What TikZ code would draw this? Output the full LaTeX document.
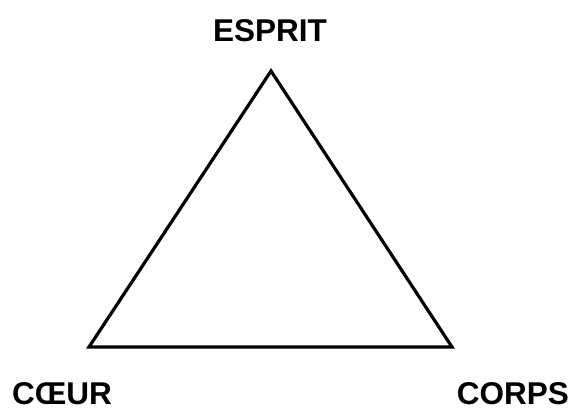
\documentclass[tikz,border=0pt]{standalone}
\usepackage{fontspec}
\setmainfont{Liberation Sans}
\begin{document}
\begin{tikzpicture}[x=1pt,y=-1pt,
  lbl/.style={font=\fontsize{31.5}{36}\selectfont\bfseries, inner sep=0pt, anchor=base},
  edge/.style={line width=3.2pt, line join=miter}]
\useasboundingbox (0,0) rectangle (574,412);
\coordinate (t) at (271,71);
\coordinate (l) at (89,347);
\coordinate (r) at (452,347);
\draw[edge] (t) -- (l) -- (r) -- cycle;
\node[lbl] (esprit) at (270,42) {ESPRIT};
\node[lbl] (coeur) at (62,404) {CŒUR};
\node[lbl] (corps) at (513,404) {CORPS};
\end{tikzpicture}
\end{document}
